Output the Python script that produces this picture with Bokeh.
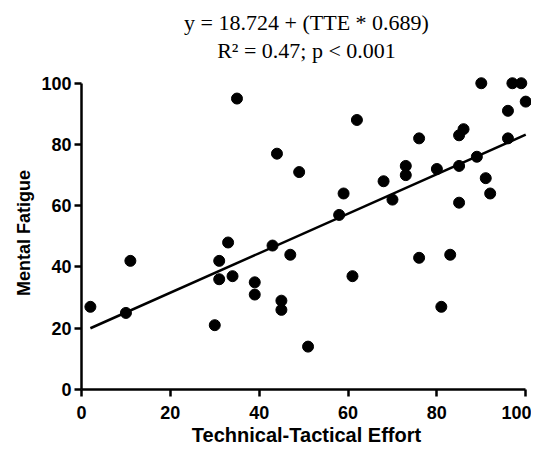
from bokeh.plotting import figure
from bokeh.models import Range1d, Title, FixedTicker
from bokeh.embed import file_html
from bokeh.resources import INLINE

# Data
tte = [2, 10, 11, 30, 31, 31, 33, 34, 35, 39, 39, 43, 44, 45, 45, 47, 49, 51,
       58, 59, 61, 62, 68, 70, 73, 73, 76, 76, 80, 81, 83, 85, 85, 85, 86, 89,
       90, 91, 92, 96, 96, 97, 99, 100]
fatigue = [27, 25, 42, 21, 42, 36, 48, 37, 95, 35, 31, 47, 77, 29, 26, 44, 71, 14,
           57, 64, 37, 88, 68, 62, 73, 70, 82, 43, 72, 27, 44, 83, 73, 61, 85, 76,
           100, 69, 64, 91, 82, 100, 100, 94]
fit_x = [2, 100]
fit_y = [20.0, 83.2]
ticks = [0, 20, 40, 60, 80, 100]
title_line1 = "y = 18.724 + (TTE * 0.689)"
title_line2 = "R\u00b2 = 0.47; p < 0.001"

p = figure(width=523, height=443, output_backend="svg", toolbar_location=None,
           x_range=Range1d(0, 101.3), y_range=Range1d(0, 102.2),
           min_border_left=73, min_border_right=0, min_border_top=68,
           min_border_bottom=62)
p.styles = {"position": "absolute", "top": "8px", "left": "8px"}
p.background_fill_color = "white"
p.border_fill_color = "white"
p.outline_line_color = None
p.grid.visible = False

t2 = Title(text=title_line2, align="center", text_font="Liberation Serif",
           text_font_size="22px", text_font_style="normal", text_color="black",
           standoff=28)
t1 = Title(text=title_line1, align="center", text_font="Liberation Serif",
           text_font_size="22px", text_font_style="normal", text_color="black",
           standoff=-27)
p.add_layout(t2, "above")
p.add_layout(t1, "above")

for ax, lab, fs in ((p.xaxis[0], "Technical-Tactical Effort", "20px"),
                    (p.yaxis[0], "Mental Fatigue", "18px")):
    ax.ticker = FixedTicker(ticks=ticks)
    ax.bounds = (0, 100)
    ax.axis_label = lab
    ax.axis_label_text_font = "Liberation Sans"
    ax.axis_label_text_font_style = "bold"
    ax.axis_label_text_font_size = fs
    ax.axis_label_text_color = "black"
    ax.major_label_text_font = "Liberation Sans"
    ax.major_label_text_font_style = "bold"
    ax.major_label_text_font_size = "18px"
    ax.major_label_text_color = "black"
    ax.axis_line_width = 2.5
    ax.axis_line_color = "black"
    ax.major_tick_line_width = 2.5
    ax.major_tick_line_color = "black"
    ax.major_tick_out = 7
    ax.major_tick_in = 0
    ax.minor_tick_line_color = None
    ax.major_label_standoff = 3

p.xaxis[0].major_label_standoff = 9
p.xaxis[0].axis_label_standoff = 2
p.yaxis[0].axis_label_standoff = 4

p.line(fit_x, fit_y, line_color="black", line_width=2.5)
p.scatter(tte, fatigue, marker="circle", size=11, fill_color="black",
          line_color="black")

open("out.html", "w").write(file_html(p, INLINE))
